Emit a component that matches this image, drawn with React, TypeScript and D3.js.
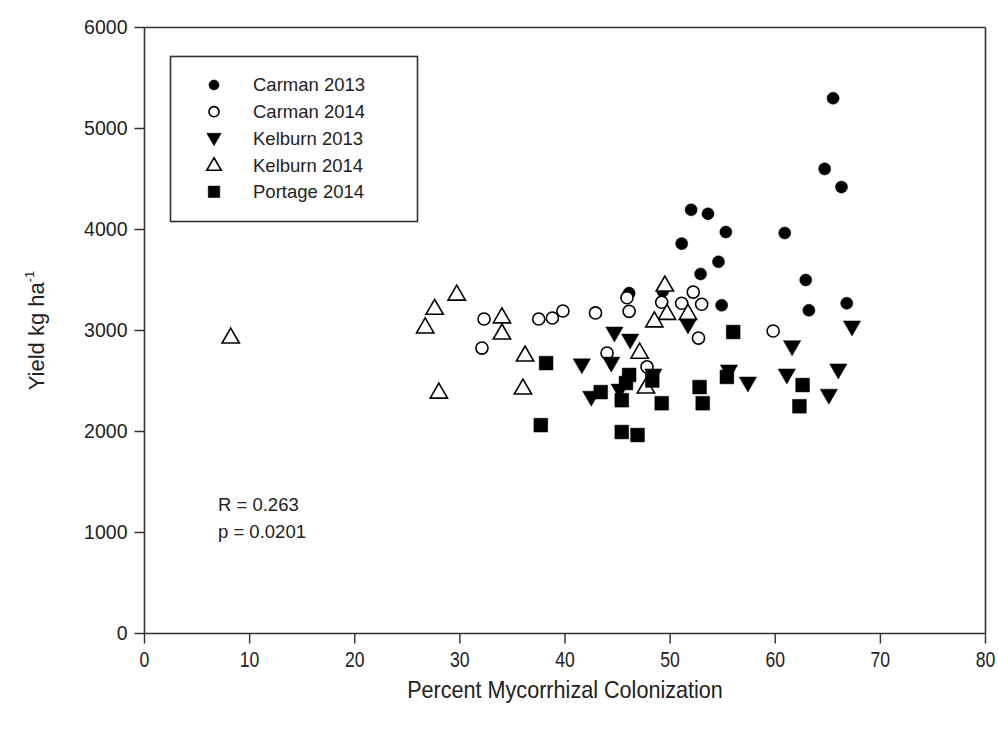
import * as d3 from 'd3';

// [percent colonization, yield kg/ha]
const carman2013 = [
  [65.5, 5300], [64.7, 4600], [66.3, 4420], [52.0, 4195], [53.6, 4155],
  [51.1, 3860], [55.3, 3975], [60.9, 3965], [54.6, 3680], [52.9, 3560],
  [62.9, 3500], [54.9, 3250], [63.2, 3200], [66.8, 3270], [46.1, 3370],
  [49.3, 3390],
];
const carman2014 = [
  [32.1, 2826], [32.3, 3114], [37.5, 3114], [38.8, 3124], [39.8, 3193],
  [42.9, 3174], [45.9, 3325], [46.1, 3190], [44.0, 2777], [47.8, 2640],
  [49.2, 3280], [51.1, 3270], [52.2, 3380], [53.0, 3260], [52.7, 2925],
  [59.8, 2995],
];
const kelburn2013 = [
  [44.7, 2975], [46.2, 2905], [44.4, 2677], [41.6, 2660], [42.5, 2340],
  [45.2, 2410], [48.4, 2560], [51.7, 3055], [55.6, 2600], [57.4, 2480],
  [61.6, 2840], [61.1, 2560], [66.0, 2610], [65.1, 2360], [67.3, 3035],
];
const kelburn2014 = [
  [8.2, 2935], [26.7, 3035], [27.6, 3220], [29.7, 3360], [34.0, 3135],
  [34.0, 2975], [36.2, 2757], [36.0, 2430], [28.0, 2390], [49.5, 3450],
  [49.7, 3170], [48.5, 3095], [51.7, 3170], [47.1, 2785], [47.7, 2440],
];
const portage2014 = [
  [38.2, 2677], [37.7, 2063], [43.4, 2390], [46.1, 2560], [45.8, 2480],
  [45.4, 2310], [45.4, 1995], [46.9, 1965], [48.3, 2505], [49.2, 2280],
  [52.8, 2440], [53.1, 2280], [56.0, 2985], [55.4, 2540], [62.6, 2460],
  [62.3, 2250],
];

const xTicks = [0, 10, 20, 30, 40, 50, 60, 70, 80];
const yTicks = [0, 1000, 2000, 3000, 4000, 5000, 6000];
const statLines = ['R = 0.263', 'p = 0.0201'];

const series = [
  { name: 'Carman 2013', data: carman2013, shape: 'circle', filled: true },
  { name: 'Carman 2014', data: carman2014, shape: 'circle', filled: false },
  { name: 'Kelburn 2013', data: kelburn2013, shape: 'down', filled: true },
  { name: 'Kelburn 2014', data: kelburn2014, shape: 'up', filled: false },
  { name: 'Portage 2014', data: portage2014, shape: 'square', filled: true },
];

const W = 998;
const H = 734;
const font = 'Arial, "Liberation Sans", sans-serif';
const ink = '#222';

function symbolPath(shape: string, scale: number) {
  if (shape === 'circle') return d3.symbol(d3.symbolCircle, 115 * scale)();
  if (shape === 'square') return d3.symbol(d3.symbolSquare, 190 * scale)();
  return d3.symbol(d3.symbolTriangle, 130 * scale)();
}

function Marker({ shape, filled, x, y, scale = 1 }) {
  const rot = shape === 'down' ? 180 : 0;
  const dy = shape === 'up' ? 1 : shape === 'down' ? -1 : 0;
  return (
    <path
      d={symbolPath(shape, scale)}
      transform={`translate(${x},${y + dy}) rotate(${rot})`}
      fill={filled ? '#000' : '#fff'}
      stroke="#000"
      strokeWidth={filled ? 0.5 : 1.6}
    />
  );
}

export default function App() {
  const x = d3.scaleLinear().domain([0, 80]).range([144.5, 985.5]);
  const y = d3.scaleLinear().domain([0, 6000]).range([633.5, 27.5]);

  return (
    <svg
      width={W}
      height={H}
      style={{ position: 'absolute', left: 0, top: 0, background: '#fff' }}
      fontFamily={font}
    >
      <rect width={W} height={H} fill="#fff" />

      {/* frame */}
      <g stroke="#333" strokeWidth={1.6} fill="none">
        <line x1={x(0)} x2={x(80)} y1={y(6000)} y2={y(6000)} />
        <line x1={x(80)} x2={x(80)} y1={y(6000)} y2={y(0)} />
        <line x1={x(0)} x2={x(0)} y1={y(6000)} y2={y(0)} />
        <line x1={x(0)} x2={x(80)} y1={y(0)} y2={y(0)} />
      </g>

      {/* y axis */}
      <g>
        {yTicks.map((t) => (
          <g key={t}>
            <line x1={x(0) - 10} x2={x(0)} y1={y(t)} y2={y(t)} stroke="#333" strokeWidth={1.5} />
            <text x={x(0) - 17} y={y(t)} dy="0.35em" textAnchor="end" fontSize={19.5} fill={ink}>
              {t}
            </text>
          </g>
        ))}
        <text
          transform={`translate(44,${y(3000)}) rotate(-90)`}
          textAnchor="middle"
          fontSize={22}
          fill={ink}
        >
          Yield kg ha
          <tspan fontSize={13} dy={-10}>-1</tspan>
        </text>
      </g>

      {/* x axis */}
      <g>
        {xTicks.map((t) => (
          <g key={t} transform={`translate(${x(t)},${y(0) + 33}) scale(0.8,1)`}>
            <line x1={0} x2={0} y1={-33} y2={-23} stroke="#333" strokeWidth={1.8} />
            <text x={0} y={0} textAnchor="middle" fontSize={22} fill={ink}>
              {t}
            </text>
          </g>
        ))}
        <text
          transform={`translate(${(x(0) + x(80)) / 2},698) scale(0.9,1)`}
          textAnchor="middle"
          fontSize={24}
          fill={ink}
        >
          Percent Mycorrhizal Colonization
        </text>
      </g>

      {/* points */}
      {series.map((s) => (
        <g key={s.name}>
          {s.data.map((d, i) => (
            <Marker key={i} shape={s.shape} filled={s.filled} x={x(d[0])} y={y(d[1])} />
          ))}
        </g>
      ))}

      {/* legend */}
      <g>
        <rect x={170.5} y={56.5} width={247} height={165} fill="#fff" stroke="#333" strokeWidth={1.6} />
        {series.map((s, i) => (
          <g key={s.name} transform={`translate(0,${85 + i * 26.7})`}>
            <Marker shape={s.shape} filled={s.filled} x={214} y={0} scale={0.7} />
            <text x={253} y={0} dy="0.35em" fontSize={18.5} fill={ink}>
              {s.name}
            </text>
          </g>
        ))}
      </g>

      {/* stats */}
      {statLines.map((t, i) => (
        <text key={t} x={218} y={505 + i * 27} dy="0.35em" fontSize={18.5} fill={ink}>
          {t}
        </text>
      ))}
    </svg>
  );
}
